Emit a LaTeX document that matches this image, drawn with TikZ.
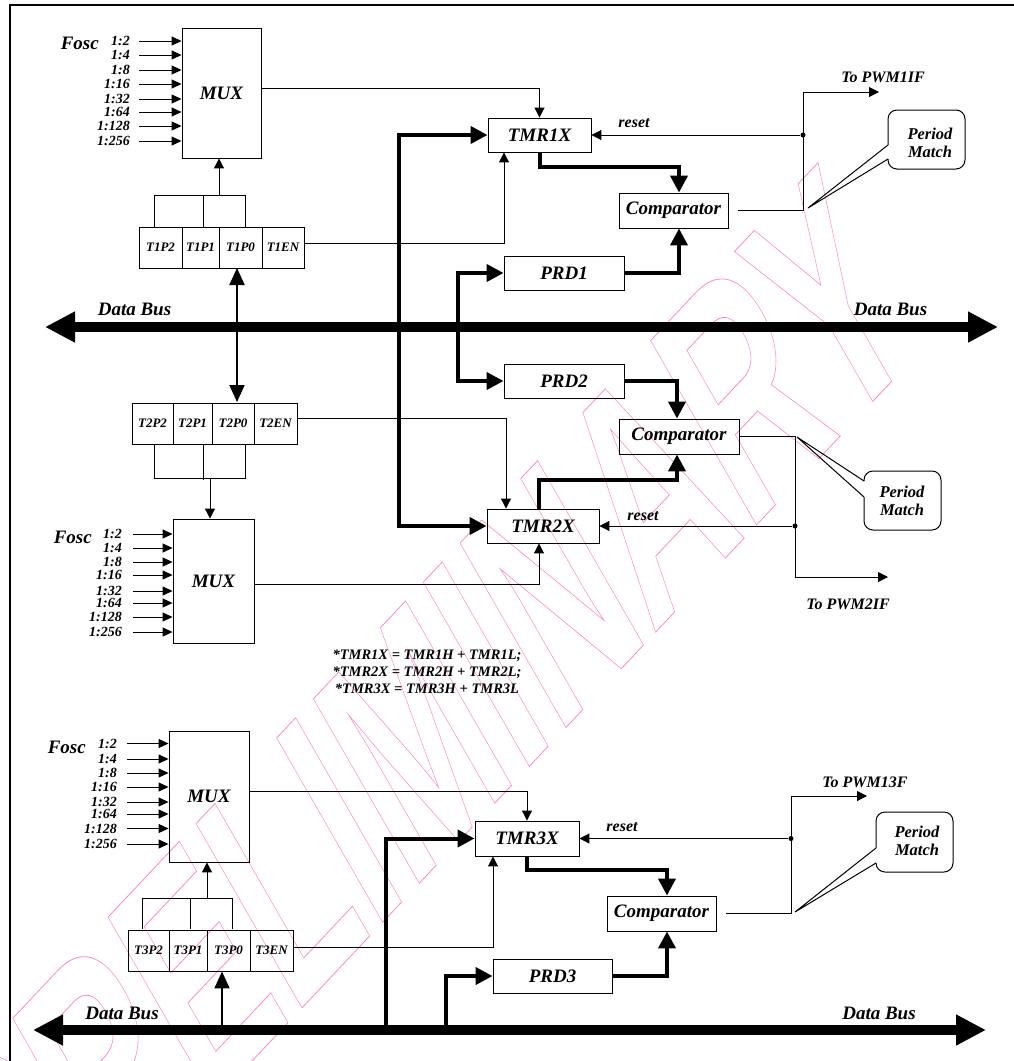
\documentclass[tikz,border=0pt]{standalone}
\usepackage{fontspec}
\setmainfont{Liberation Serif}
\newfontfamily\wmfont{Liberation Sans}
\usetikzlibrary{arrows.meta}
\definecolor{wmpink}{RGB}{255,140,200}
\tikzset{
  lab/.style={font=\bfseries\itshape\fontsize{19}{21}\selectfont, inner sep=0pt},
  box/.style={draw, line width=0.9pt, inner sep=0pt, lab},
  reg/.style={draw, line width=0.9pt, inner sep=0pt, minimum height=41pt, font=\bfseries\itshape\fontsize{13}{13}\selectfont},
  ratio/.style={font=\bfseries\itshape\fontsize{14}{14}\selectfont, anchor=east, inner sep=0pt},
  small/.style={font=\bfseries\itshape\fontsize{16}{16}\selectfont, inner sep=0pt},
  pm/.style={font=\bfseries\itshape\fontsize{16.5}{18}\selectfont, inner sep=0pt, align=center},
  note/.style={font=\bfseries\itshape\fontsize{14.5}{17}\selectfont, inner sep=0pt, align=center},
  thin/.style={line width=1pt},
  tarrow/.style={line width=1pt, -{Triangle[length=10pt,width=10pt]}},
  rarrow/.style={line width=1pt, -{Triangle[length=10pt,width=9pt]}},
  karrow/.style={line width=4pt, -{Triangle[length=17pt,width=17pt]}},
  busarrow/.style={line width=10pt, {Triangle[length=30pt,width=29pt]}-{Triangle[length=30pt,width=29pt]}},
  darrow/.style={line width=2pt, {Triangle[length=17pt,width=15pt]}-{Triangle[length=17pt,width=15pt]}},
  uparrow/.style={line width=2pt, -{Triangle[length=17pt,width=15pt]}},
  wm/.style={text=wmpink, inner sep=0pt, font=\wmfont\bfseries\fontsize{250}{250}\selectfont},
  dot/.style={circle, fill, inner sep=0pt, minimum size=5pt}
}
\begin{document}
\begin{tikzpicture}[x=1pt,y=-1pt]
\useasboundingbox (0,0) rectangle (1014,1061);

% watermark
\begin{scope}[shift={(421,733)}, yscale=1.36]
\node[wm, transform shape, rotate=38, xscale=0.67] (wmark) at (0,0) {\special{pdf:literal direct 1 Tr 0.7 w}PRELIMINARY\special{pdf:literal direct 0 Tr}};
\end{scope}

% frame
\draw[line width=2pt] (10,1061) -- (10,5) -- (1014,5);

% ================= Section 1 =================
\node[box, minimum width=79pt, minimum height=130pt] (mux1) at (221.5,93) {MUX};
\node[lab, anchor=east] (fosc1) at (99,43) {Fosc};
\foreach \t/\y [count=\i] in {1:2/41,1:4/55,1:8/70,1:16/84,1:32/99,1:64/112,1:128/126,1:256/141}{
  \node[ratio] (ra\i) at (130,\y) {\t};
  \draw[rarrow] ([xshift=9pt]ra\i.east) -- (mux1.west |- ra\i.east);
}
\node[reg, minimum width=43pt] (t1p2) at (160.5,247.5) {T1P2};
\node[reg, minimum width=37pt] (t1p1) at (200.5,247.5) {T1P1};
\node[reg, minimum width=43pt] (t1p0) at (240.5,247.5) {T1P0};
\node[reg, minimum width=42pt] (t1en) at (283,247.5) {T1EN};
\draw[thin] (154,227) -- (154,195) -- (245,195) -- (245,227);
\draw[thin] (203,195) -- (203,227);
\draw[tarrow] (219,195) -- ([xshift=-2.5pt]mux1.south);

\node[box, minimum width=103pt, minimum height=34pt] (tmr1) at (539.5,135) {TMR1X};
\node[box, minimum width=109pt, minimum height=35pt] (comp1) at (673.5,210.5) {Comparator};
\node[box, minimum width=120pt, minimum height=34pt] (prd1) at (564,273) {PRD1};

\draw[tarrow] ([yshift=5pt]mux1.east) -| (tmr1.north);
\draw[tarrow] ([yshift=4.5pt]t1en.east) -| ([xshift=-35.5pt]tmr1.south);
\draw[karrow] (399,327) |- (tmr1.west);
\draw[karrow] (458,327) |- (prd1.west);
\draw[karrow] (tmr1.south) -- ++(0,15) -| ([xshift=5.5pt]comp1.north);
\draw[karrow] (prd1.east) -| ([xshift=5.5pt]comp1.south);
\draw[tarrow] ([xshift=10pt]comp1.east) -| (803,92) -- (879,92);
\node[dot] (j1) at (803,135) {};
\draw[tarrow] (j1) -- (tmr1.east);
\node[small] (rs1) at (634,123) {reset};
\node[small] (to1) at (883,77) {To PWM1IF};
\draw[thin, rounded corners=9pt] (888,145) -- (888,110) -- (965,110) -- (965,169) -- (888,169) -- (888,159);
\draw[thin] (888,145) -- (808,208) -- (888,159);
\node[pm] (pm1) at (930,143) {Period\\Match};

% data bus 1
\draw[busarrow] (45,327) -- (998,327);
\node[lab] (db1l) at (134.5,309) {Data Bus};
\node[lab] (db1r) at (890.5,309) {Data Bus};

% ================= Section 2 =================
\node[reg, minimum width=41pt] (t2p2) at (152.5,423.5) {T2P2};
\node[reg, minimum width=39pt] (t2p1) at (192.5,423.5) {T2P1};
\node[reg, minimum width=42pt] (t2p0) at (233,423.5) {T2P0};
\node[reg, minimum width=43pt] (t2en) at (275.5,423.5) {T2EN};
\draw[darrow] (237,268) -- (237,402);
\draw[thin] (154,445) -- (154,478) -- (245,478) -- (245,445);
\draw[thin] (203,445) -- (203,480);

\node[box, minimum width=81pt, minimum height=124pt] (mux2) at (213.5,581) {MUX};
\draw[tarrow] (210,478) -- ([xshift=-3.5pt]mux2.north);
\node[lab, anchor=east] (fosc2) at (92,537) {Fosc};
\foreach \t/\y [count=\i] in {1:2/534,1:4/548,1:8/562,1:16/575,1:32/591,1:64/603,1:128/617,1:256/632}{
  \node[ratio] (rb\i) at (122,\y) {\t};
  \draw[rarrow] ([xshift=11pt]rb\i.east) -- (mux2.west |- rb\i.east);
}

\node[box, minimum width=112pt, minimum height=34pt] (tmr2) at (543,526) {TMR2X};
\node[box, minimum width=120pt, minimum height=35pt] (comp2) at (679,436.5) {Comparator};
\node[box, minimum width=120pt, minimum height=34pt] (prd2) at (564,381) {PRD2};

\draw[tarrow] ([yshift=5.5pt]t2en.east) -| ([xshift=-37pt]tmr2.north);
\draw[tarrow] ([yshift=-3pt]mux2.east) -| ([xshift=-4pt]tmr2.south);
\draw[karrow] (399,327) |- (tmr2.west);
\draw[karrow] (458,327) |- (prd2.west);
\draw[karrow] (prd2.east) -| ([xshift=-2pt]comp2.north);
\draw[karrow] ([xshift=-4pt]tmr2.north) -- ++(0,-29) -| ([xshift=-2pt]comp2.south);
\draw[tarrow] (comp2.east) -| (795,577) -- (888,577);
\node[dot] (j2) at (795,526) {};
\draw[tarrow] (j2) -- (tmr2.east);
\node[small] (rs2) at (643,516) {reset};
\node[small] (to2) at (848,604) {To PWM2IF};
\draw[thin, rounded corners=9pt] (864,481) -- (864,471) -- (941,471) -- (941,530) -- (864,530) -- (864,497);
\draw[thin] (864,481) -- (797,437) -- (864,497);
\node[pm] (pm2) at (902,501) {Period\\Match};

\node[note] (eqs) at (427,672) {*TMR1X = TMR1H + TMR1L;\\*TMR2X = TMR2H + TMR2L;\\*TMR3X = TMR3H + TMR3L};

% ================= Section 3 =================
\node[box, minimum width=80pt, minimum height=131pt] (mux3) at (209,796.5) {MUX};
\node[lab, anchor=east] (fosc3) at (86,747) {Fosc};
\foreach \t/\y [count=\i] in {1:2/743.5,1:4/759,1:8/773,1:16/787,1:32/802,1:64/814,1:128/828.5,1:256/844}{
  \node[ratio] (rc\i) at (117,\y) {\t};
  \draw[rarrow] ([xshift=10pt]rc\i.east) -- (mux3.west |- rc\i.east);
}
\node[reg, minimum width=41pt] (t3p2) at (148.5,950.5) {T3P2};
\node[reg, minimum width=38pt] (t3p1) at (188,950.5) {T3P1};
\node[reg, minimum width=43pt] (t3p0) at (228.5,950.5) {T3P0};
\node[reg, minimum width=43pt] (t3en) at (271.5,950.5) {T3EN};
\draw[thin] (142,929) -- (142,898) -- (232,898) -- (232,929);
\draw[thin] (190,898) -- (190,929);
\draw[tarrow] (207,898) -- ([xshift=-2pt]mux3.south);

\node[box, minimum width=104pt, minimum height=35pt] (tmr3) at (527,838.5) {TMR3X};
\node[box, minimum width=109pt, minimum height=35pt] (comp3) at (661.5,913.5) {Comparator};
\node[box, minimum width=119pt, minimum height=34pt] (prd3) at (552.5,976) {PRD3};

\draw[tarrow] ([yshift=5.5pt]mux3.east) -| (tmr3.north);
\draw[tarrow] ([yshift=3.5pt]t3en.east) -| ([xshift=-34pt]tmr3.south);
\draw[karrow] (386,1030) |- (tmr3.west);
\draw[karrow] (446,1030) |- (prd3.west);
\draw[karrow] (tmr3.south) -- ++(0,14) -| ([xshift=5.5pt]comp3.north);
\draw[karrow] (prd3.east) -| ([xshift=5.5pt]comp3.south);
\draw[tarrow] ([xshift=10pt]comp3.east) -| (791,796) -- (867,796);
\node[dot] (j3) at (791,838.5) {};
\draw[tarrow] (j3) -- (tmr3.east);
\node[small] (rs3) at (622,827) {reset};
\node[small] (to3) at (865,782) {To PWM13F};
\draw[thin, rounded corners=9pt] (876,848) -- (876,812) -- (953,812) -- (953,872) -- (876,872) -- (876,863);
\draw[thin] (876,848) -- (795,912) -- (876,863);
\node[pm] (pm3) at (917,841) {Period\\Match};

% data bus 3
\draw[busarrow] (33,1030) -- (986,1030);
\draw[uparrow] (222,1028) -- ([xshift=-6.5pt]t3p0.south);
\node[lab] (db3l) at (122,1013) {Data Bus};
\node[lab] (db3r) at (879,1013) {Data Bus};
\end{tikzpicture}
\end{document}
